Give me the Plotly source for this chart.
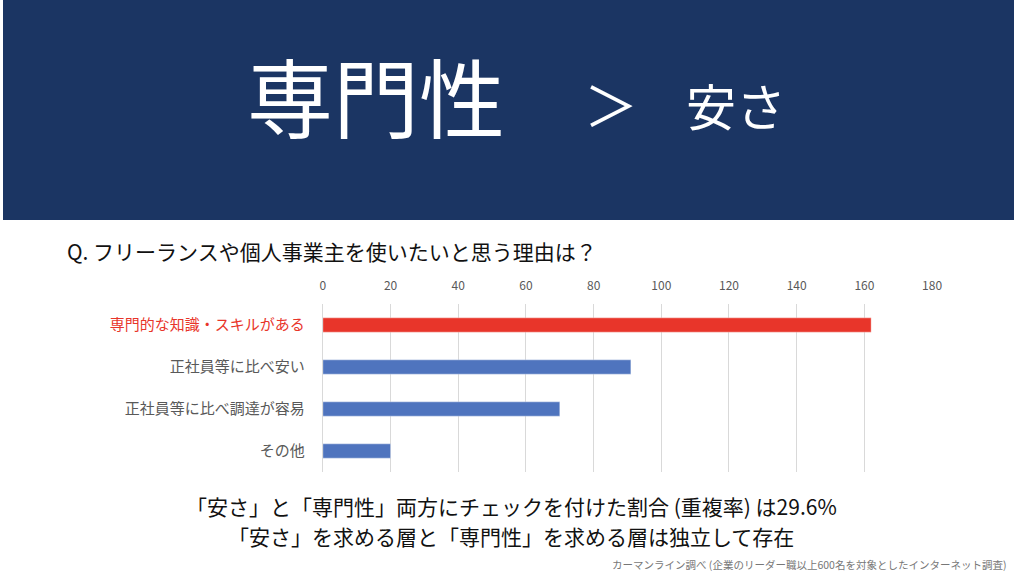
import plotly.graph_objects as go

# data
categories = ["専門的な知識・スキルがある", "正社員等に比べ安い", "正社員等に比べ調達が容易", "その他"]
counts = [162, 91, 70, 20]
bar_colors = ["#e8352a", "#4f74be", "#4f74be", "#4f74be"]
x_ticks = [0, 20, 40, 60, 80, 100, 120, 140, 160, 180]

jp = "Noto Sans CJK JP"
W, H = 1024, 575

# first label in red
tick_text = ['<span style="color:#e8352a">' + categories[0] + '</span>'] + categories[1:]

fig = go.Figure()

fig.add_trace(go.Bar(
    y=categories,
    x=counts,
    orientation="h",
    marker=dict(color=bar_colors, line=dict(color="rgba(255,255,255,0.35)", width=1)),
    width=0.34,
    hoverinfo="x+y",
))

# dark header band
fig.add_shape(type="rect", xref="paper", yref="paper",
              x0=0, x1=1, y0=1 - 220 / H, y1=1,
              fillcolor="#1b3563", line_width=0, layer="below")


def note(text, px, py, size, color="#111111", xanchor="center"):
    # place text by pixel position in the 1024x575 frame
    fig.add_annotation(text=text, x=px / W, y=1 - py / H, xref="paper", yref="paper",
                       xanchor=xanchor, yanchor="middle", showarrow=False,
                       font=dict(family=jp, size=size, color=color))


# headline
note("専門性", 378, 95, 86, "white")
note("＞", 616, 103, 54, "white")
note("安さ", 742, 104, 50, "white")

# question
note("Q. フリーランスや個人事業主を使いたいと思う理由は？", 63, 251, 21, xanchor="left")

# conclusion lines
note("「安さ」と「専門性」両方にチェックを付けた割合 (重複率) は29.6%", 515, 506, 21)
note("「安さ」を求める層と「専門性」を求める層は独立して存在", 515, 536, 21)

# source
note("カーマンライン調べ (企業のリーダー職以上600名を対象としたインターネット調査)",
     1018, 564, 10.5, "#777777", xanchor="right")

fig.update_layout(
    autosize=True,
    margin=dict(l=0, r=0, t=0, b=0, pad=0),
    paper_bgcolor="white",
    plot_bgcolor="white",
    showlegend=False,
    xaxis=dict(
        domain=[324 / W, 941 / W],
        side="top",
        range=[0, 180],
        tickvals=x_ticks,
        showgrid=True, gridcolor="#d9d9d9", gridwidth=1,
        zeroline=True, zerolinecolor="#d9d9d9", zerolinewidth=1,
        showline=False,
        ticks="outside", ticklen=8, tickcolor="rgba(0,0,0,0)",
        tickfont=dict(family=jp, size=12, color="#595959"),
        fixedrange=True,
    ),
    yaxis=dict(
        domain=[103 / H, 271 / H],
        autorange="reversed",
        tickvals=categories,
        ticktext=tick_text,
        showgrid=False, showline=False, zeroline=False,
        ticks="outside", ticklen=14, tickcolor="rgba(0,0,0,0)",
        tickfont=dict(family=jp, size=15, color="#595959"),
        fixedrange=True,
    ),
)

# page flush with the window: no body margin, no scrollbars
page_js = ("document.body.style.margin='0';"
           "document.body.style.overflow='hidden';"
           "document.documentElement.style.overflow='hidden';"
           "window.dispatchEvent(new Event('resize'));")
fig.write_html("out.html", config={"displayModeBar": False, "responsive": True},
               default_width="100vw", default_height="100vh", post_script=page_js)
